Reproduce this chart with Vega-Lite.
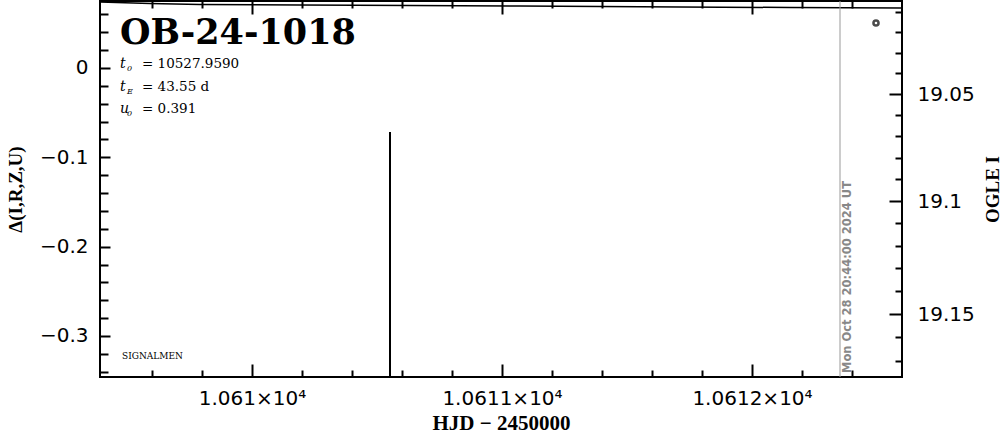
{
  "$schema": "https://vega.github.io/schema/vega-lite/v6.json",
  "width": 802,
  "height": 376,
  "autosize": {"type": "none"},
  "padding": {"left": 100, "top": 1, "right": 102, "bottom": 57},
  "background": "white",
  "config": {
    "view": {"stroke": "black", "strokeWidth": 2},
    "axis": {
      "grid": false,
      "domain": false,
      "tickColor": "black",
      "tickWidth": 2,
      "labelColor": "black",
      "titleColor": "black",
      "labelFont": "DejaVu Sans",
      "labelFontSize": 20,
      "titleFont": "Liberation Serif",
      "titleFontWeight": "bold"
    }
  },
  "datasets": {
    "model": [
      {"hjd": 10609.392, "mag": 19.0049},
      {"hjd": 10609.592, "mag": 19.0056},
      {"hjd": 10609.792, "mag": 19.0061},
      {"hjd": 10610.192, "mag": 19.0064},
      {"hjd": 10610.632, "mag": 19.0066},
      {"hjd": 10611.072, "mag": 19.0069},
      {"hjd": 10611.712, "mag": 19.0074},
      {"hjd": 10612.152, "mag": 19.0076},
      {"hjd": 10612.6, "mag": 19.0079}
    ],
    "obs_err": [
      {"hjd": 10610.552, "mag": 19.15087, "mag_lo": 19.06803, "mag_hi": 19.2337}
    ],
    "obs": [
      {"hjd": 10612.496, "mag": 19.01536}
    ],
    "epoch": [
      {"hjd": 10612.352, "mag": 19.17514, "label": "Mon Oct 28 20:44:00 2024 UT", "label_hjd": 10612.384}
    ],
    "name": [
      {"hjd": 10609.472, "delta": 0.0269, "text": "OB-24-1018"}
    ],
    "params": [
      {"hjd": 10609.472, "delta": 0.0, "sym": "t", "sub": "0", "rest": "= 10527.9590"},
      {"hjd": 10609.472, "delta": -0.0257, "sym": "t", "sub": "E", "rest": "= 43.55 d"},
      {"hjd": 10609.472, "delta": -0.0504, "sym": "u", "sub": "0", "rest": "= 0.391"}
    ],
    "credit": [
      {"hjd": 10609.48, "delta": -0.3258, "text": "SIGNALMEN"}
    ]
  },
  "layer": [
    {
      "data": {"name": "model"},
      "mark": {"type": "line", "color": "black", "strokeWidth": 1.5, "clip": true},
      "encoding": {
        "x": {
          "field": "hjd", "type": "quantitative",
          "scale": {"domain": [10609.392, 10612.6], "nice": false, "zero": false},
          "axis": {
            "orient": "bottom",
            "values": [10610, 10611, 10612],
            "labelExpr": "format(datum.value/10000, '.4~f') + '×10⁴'",
            "tickSize": -13,
            "labelPadding": 24,
            "title": "HJD  −  2450000",
            "titleFontSize": 21,
            "titlePadding": 4
          }
        },
        "y": {
          "field": "mag", "type": "quantitative",
          "scale": {"type": "pow", "exponent": 21, "domain": [19.00435, 19.17681], "reverse": true, "nice": false, "zero": false},
          "axis": {
            "orient": "right",
            "values": [19.05, 19.1, 19.15],
            "format": ".2~f",
            "tickSize": -13,
            "labelPadding": 28,
            "title": "OGLE I",
            "titleAngle": 270,
            "titleFontSize": 19,
            "titlePadding": 28
          }
        }
      }
    },
    {
      "data": {"name": "obs_err"},
      "mark": {"type": "rule", "color": "black", "strokeWidth": 2, "clip": true},
      "encoding": {
        "x": {
          "field": "hjd", "type": "quantitative",
          "scale": {"domain": [10609.392, 10612.6], "nice": false, "zero": false},
          "axis": {
            "orient": "bottom",
            "values": [10609.6, 10609.8, 10610.2, 10610.4, 10610.6, 10610.8, 10611.2, 10611.4, 10611.6, 10611.8, 10612.2, 10612.4],
            "labels": false,
            "tickSize": -7,
            "title": null
          }
        },
        "y": {
          "field": "mag_lo", "type": "quantitative",
          "scale": {"type": "pow", "exponent": 21, "domain": [19.00435, 19.17681], "reverse": true, "nice": false, "zero": false},
          "axis": {
            "orient": "right",
            "values": [19.01, 19.02, 19.03, 19.04, 19.06, 19.07, 19.08, 19.09, 19.11, 19.12, 19.13, 19.14, 19.16, 19.17],
            "labels": false,
            "tickSize": -7,
            "title": null
          }
        },
        "y2": {"field": "mag_hi"}
      }
    },
    {
      "data": {"name": "obs"},
      "mark": {"type": "point", "shape": "circle", "filled": false, "stroke": "black", "strokeWidth": 2.5, "size": 26, "clip": true},
      "encoding": {
        "x": {
          "field": "hjd", "type": "quantitative",
          "scale": {"domain": [10609.392, 10612.6], "nice": false, "zero": false},
          "axis": {
            "orient": "top",
            "values": [10610, 10611, 10612],
            "labels": false,
            "tickSize": -13,
            "title": null
          }
        },
        "y": {
          "field": "mag", "type": "quantitative",
          "scale": {"type": "pow", "exponent": 21, "domain": [19.00435, 19.17681], "reverse": true, "nice": false, "zero": false},
          "axis": null
        }
      }
    },
    {
      "data": {"name": "epoch"},
      "mark": {"type": "rule", "color": "#999999", "strokeWidth": 1},
      "encoding": {
        "x": {
          "field": "hjd", "type": "quantitative",
          "scale": {"domain": [10609.392, 10612.6], "nice": false, "zero": false},
          "axis": {
            "orient": "top",
            "values": [10609.6, 10609.8, 10610.2, 10610.4, 10610.6, 10610.8, 10611.2, 10611.4, 10611.6, 10611.8, 10612.2, 10612.4],
            "labels": false,
            "tickSize": -7,
            "title": null
          }
        }
      }
    },
    {
      "data": {"name": "epoch"},
      "mark": {"type": "text", "angle": 270, "align": "left", "baseline": "middle", "font": "DejaVu Sans", "fontWeight": "bold", "fontSize": 11.5, "color": "#888888"},
      "encoding": {
        "x": {
          "field": "label_hjd", "type": "quantitative",
          "scale": {"domain": [10609.392, 10612.6], "nice": false, "zero": false},
          "axis": null
        },
        "y": {
          "field": "mag", "type": "quantitative",
          "scale": {"type": "pow", "exponent": 21, "domain": [19.00435, 19.17681], "reverse": true, "nice": false, "zero": false},
          "axis": null
        },
        "text": {"field": "label"}
      }
    },
    {
      "data": {"name": "name"},
      "mark": {"type": "text", "align": "left", "baseline": "alphabetic", "font": "DejaVu Serif", "fontWeight": "bold", "fontSize": 35, "color": "black"},
      "encoding": {
        "x": {
          "field": "hjd", "type": "quantitative",
          "scale": {"domain": [10609.392, 10612.6], "nice": false, "zero": false},
          "axis": null
        },
        "y": {
          "field": "delta", "type": "quantitative",
          "scale": {"domain": [-0.3459, 0.075], "nice": false, "zero": false},
          "axis": {
            "orient": "left",
            "values": [0, -0.1, -0.2, -0.3],
            "format": ".1~f",
            "tickSize": -10,
            "labelPadding": 22,
            "title": "Δ(I,R,Z,U)",
            "titleFontSize": 19,
            "titlePadding": 14
          }
        },
        "text": {"field": "text"}
      }
    },
    {
      "data": {"name": "params"},
      "mark": {"type": "text", "align": "left", "baseline": "alphabetic", "font": "DejaVu Serif", "fontStyle": "italic", "fontSize": 14, "color": "black"},
      "encoding": {
        "x": {
          "field": "hjd", "type": "quantitative",
          "scale": {"domain": [10609.392, 10612.6], "nice": false, "zero": false},
          "axis": null
        },
        "y": {
          "field": "delta", "type": "quantitative",
          "scale": {"domain": [-0.3459, 0.075], "nice": false, "zero": false},
          "axis": {
            "orient": "left",
            "values": [0.06, 0.04, 0.02, -0.02, -0.04, -0.06, -0.08, -0.12, -0.14, -0.16, -0.18, -0.22, -0.24, -0.26, -0.28, -0.32, -0.34],
            "labels": false,
            "tickSize": -8,
            "title": null
          }
        },
        "text": {"field": "sym"}
      }
    },
    {
      "data": {"name": "params"},
      "mark": {"type": "text", "align": "left", "baseline": "alphabetic", "font": "DejaVu Serif", "fontStyle": "italic", "fontSize": 8, "dx": 7, "dy": 3, "color": "black"},
      "encoding": {
        "x": {
          "field": "hjd", "type": "quantitative",
          "scale": {"domain": [10609.392, 10612.6], "nice": false, "zero": false},
          "axis": null
        },
        "y": {
          "field": "delta", "type": "quantitative",
          "scale": {"domain": [-0.3459, 0.075], "nice": false, "zero": false},
          "axis": null
        },
        "text": {"field": "sub"}
      }
    },
    {
      "data": {"name": "params"},
      "mark": {"type": "text", "align": "left", "baseline": "alphabetic", "font": "DejaVu Serif", "fontSize": 13.5, "dx": 22, "color": "black"},
      "encoding": {
        "x": {
          "field": "hjd", "type": "quantitative",
          "scale": {"domain": [10609.392, 10612.6], "nice": false, "zero": false},
          "axis": null
        },
        "y": {
          "field": "delta", "type": "quantitative",
          "scale": {"domain": [-0.3459, 0.075], "nice": false, "zero": false},
          "axis": null
        },
        "text": {"field": "rest"}
      }
    },
    {
      "data": {"name": "credit"},
      "mark": {"type": "text", "align": "left", "baseline": "alphabetic", "font": "DejaVu Serif", "fontSize": 9, "color": "black"},
      "encoding": {
        "x": {
          "field": "hjd", "type": "quantitative",
          "scale": {"domain": [10609.392, 10612.6], "nice": false, "zero": false},
          "axis": null
        },
        "y": {
          "field": "delta", "type": "quantitative",
          "scale": {"domain": [-0.3459, 0.075], "nice": false, "zero": false},
          "axis": null
        },
        "text": {"field": "text"}
      }
    }
  ],
  "resolve": {
    "scale": {"y": "independent"},
    "axis": {"x": "independent", "y": "independent"}
  }
}
